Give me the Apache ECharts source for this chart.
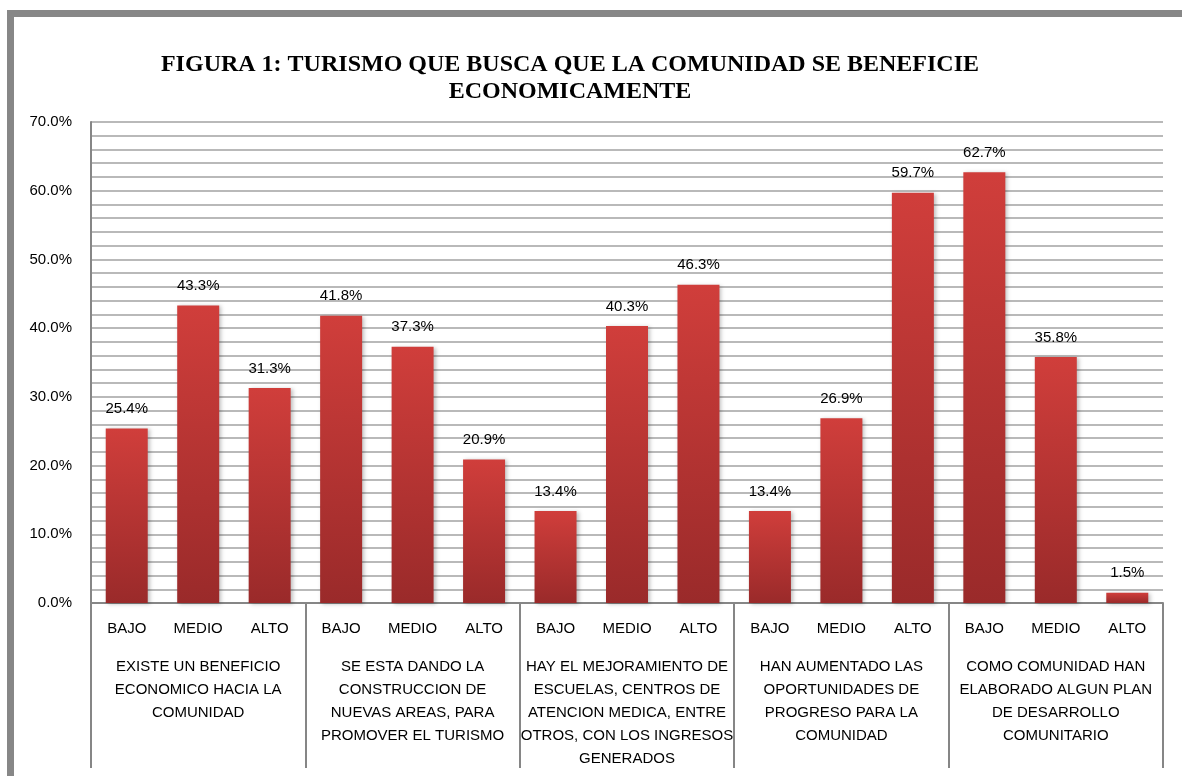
<!DOCTYPE html>
<html>
<head>
<meta charset="utf-8">
<script src="https://cdn.jsdelivr.net/npm/echarts@6/dist/echarts.min.js"></script>
<style>
  html, body { margin: 0; padding: 0; background: #fff; }
  #main { width: 1182px; height: 776px; }
</style>
</head>
<body>
<div id="main"></div>
<script>
// niveles y grupos (preguntas)
var niveles = ['BAJO', 'MEDIO', 'ALTO'];
var grupos = [
  'EXISTE UN BENEFICIO\nECONOMICO HACIA LA\nCOMUNIDAD',
  'SE ESTA DANDO LA\nCONSTRUCCION DE\nNUEVAS AREAS, PARA\nPROMOVER EL TURISMO',
  'HAY EL MEJORAMIENTO DE\nESCUELAS, CENTROS DE\nATENCION MEDICA, ENTRE\nOTROS, CON LOS INGRESOS\nGENERADOS',
  'HAN AUMENTADO LAS\nOPORTUNIDADES DE\nPROGRESO PARA LA\nCOMUNIDAD',
  'COMO COMUNIDAD HAN\nELABORADO ALGUN PLAN\nDE DESARROLLO\nCOMUNITARIO'
];
var valores = [25.4, 43.3, 31.3, 41.8, 37.3, 20.9, 13.4, 40.3, 46.3, 13.4, 26.9, 59.7, 62.7, 35.8, 1.5];

var categorias = [];
grupos.forEach(function () {
  niveles.forEach(function (n) { categorias.push(n); });
});

var chart = echarts.init(document.getElementById('main'));
var fuente = 'Liberation Sans';

var option = {
  backgroundColor: '#fff',
  animation: false,
  title: {
    text: 'FIGURA 1: TURISMO QUE BUSCA QUE LA COMUNIDAD SE BENEFICIE\nECONOMICAMENTE',
    left: 565,
    top: 46,
    textAlign: 'center',
    textStyle: {
      fontFamily: 'Liberation Serif',
      fontWeight: 'bold',
      fontSize: 24,
      lineHeight: 27,
      color: '#000'
    }
  },
  graphic: [{
    type: 'rect',
    shape: { x: 10.5, y: 13.5, width: 1200, height: 800 },
    style: { fill: 'none', stroke: '#878787', lineWidth: 7 },
    silent: true
  }],
  grid: { left: 91, right: 19, top: 122, bottom: 173 },
  xAxis: [{
    type: 'category',
    data: categorias,
    axisLine: { lineStyle: { color: '#868686', width: 2 } },
    axisTick: { show: false },
    axisLabel: { interval: 0, margin: 18, fontFamily: fuente, fontSize: 15, color: '#000' }
  }, {
    type: 'category',
    data: grupos,
    position: 'bottom',
    axisLine: { show: false },
    axisTick: { show: true, interval: 0, length: 165, lineStyle: { color: '#868686', width: 2 } },
    axisLabel: {
      interval: 0, margin: 52, verticalAlign: 'top',
      fontFamily: fuente, fontSize: 15, lineHeight: 23, color: '#000', align: 'center'
    }
  }],
  yAxis: {
    type: 'value',
    min: 0,
    max: 70,
    interval: 2,
    axisLine: { show: true, lineStyle: { color: '#868686', width: 2 } },
    axisTick: { show: false },
    splitLine: { lineStyle: { color: '#b9b9b9', width: 2 } },
    axisLabel: {
      margin: 19,
      fontFamily: fuente, fontSize: 15, color: '#000',
      formatter: function (v) {
        var r = Math.round(v);
        return r % 10 === 0 ? r.toFixed(1) + '%' : '';
      }
    }
  },
  series: [{
    type: 'bar',
    data: valores,
    barWidth: 42,
    itemStyle: {
      color: new echarts.graphic.LinearGradient(0, 0, 0, 1, [
        { offset: 0, color: '#d03e3b' },
        { offset: 1, color: '#9a2a2a' }
      ]),
      shadowColor: 'rgba(0,0,0,0.25)',
      shadowBlur: 4,
      shadowOffsetX: 2,
      shadowOffsetY: 1
    },
    label: {
      show: true,
      position: 'top',
      distance: 12,
      fontFamily: fuente,
      fontSize: 15,
      color: '#000',
      formatter: function (p) { return p.value.toFixed(1) + '%'; }
    }
  }]
};
chart.setOption(option);
</script>
</body>
</html>
